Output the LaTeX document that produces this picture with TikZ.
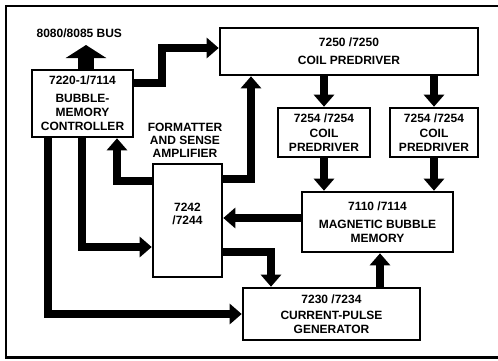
\documentclass[tikz,border=0pt]{standalone}
\usepackage{fontspec}
\setmainfont{Liberation Sans}
\usepackage{tikz}
\usetikzlibrary{
    arrows.meta,
    positioning,
    calc
}
\tikzset{
    unitbox/.style={
        draw,
        line width=2.6pt,
        align=center,
        inner sep=0pt,
        font=\fontsize{12}{14}\selectfont\bfseries
    },
    flowline/.style={
        line width=8pt,
        miter limit=4,
        -{Triangle[width=20pt,length=12pt]}
    },
    busline/.style={
        line width=16pt,
        -{Triangle[width=40pt,length=13pt]}
    },
    plaintext/.style={
        align=center,
        inner sep=0pt,
        font=\fontsize{12}{13}\selectfont\bfseries
    }
}
\begin{document}
\begin{tikzpicture}[x=1pt,y=-1pt]
%
    \useasboundingbox (0,0) rectangle (498,360);
%
    \draw[
        line width=2.8pt
    ]
    (505,6) -- (6,6) -- (6,357.5) -- (505,357.5);
%
    \node[
        unitbox,
        minimum width=101pt,
        minimum height=67pt
    ] (ctrl) at (82.5,103.5) {
        7220-1/7114\\[4pt]
        BUBBLE-\\
        MEMORY\\
        CONTROLLER
    };
%
    \node[
        unitbox,
        minimum width=258pt,
        minimum height=47pt
    ] (pre) at (349,51.5) {
        7250 /7250\\[4pt]
        COIL PREDRIVER
    };
%
    \node[
        unitbox,
        minimum width=92pt,
        minimum height=49pt
    ] (coila) at (324,132.5) {
        7254 /7254\\[1pt]
        COIL\\
        PREDRIVER
    };
%
    \node[
        unitbox,
        minimum width=88pt,
        minimum height=49pt
    ] (coilb) at (434,132.5) {
        7254 /7254\\[1pt]
        COIL\\
        PREDRIVER
    };
%
    \node[
        unitbox,
        minimum width=151pt,
        minimum height=60pt
    ] (mbm) at (377.5,222) {
        7110 /7114\\[4pt]
        MAGNETIC BUBBLE\\
        MEMORY
    };
%
    \node[
        unitbox,
        minimum width=69pt,
        minimum height=113pt
    ] (fsa) at (187.5,220.5) {};
    \node[
        plaintext
    ] (fsanum) at (187.5,213.5) {
        7242\\
        /7244
    };
%
    \node[
        unitbox,
        minimum width=177pt,
        minimum height=52pt
    ] (cpg) at (331.5,314) {
        7230 /7234\\[2pt]
        CURRENT-PULSE\\
        GENERATOR
    };
%
    \node[
        plaintext
    ] (fsaname) at (185,140) {
        FORMATTER\\
        AND SENSE\\
        AMPLIFIER
    };
%
    \node[
        plaintext
    ] (busname) at (81,33) {
        8080/8085 BUS
    };
    \coordinate (bustip) at (86,45);
%
    \draw[busline] (ctrl.north -| bustip) -- (bustip);
%
    \draw[flowline]
    (ctrl.east |- 0,83) -- (162,83) -- (162,48) -- (pre.west |- 0,48);
%
    \draw[flowline]
    (fsa.east |- 0,179) -| (pre.south -| 251,0);
%
    \foreach \col in {coila,coilb}{
        \draw[flowline] (pre.south -| \col) -- (\col.north);
        \draw[flowline] (\col.south) -- (mbm.north -| \col);
    }
%
    \draw[flowline]
    (mbm.west |- 0,218) -- (fsa.east |- 0,218);
%
    \draw[flowline]
    (fsa.east |- 0,252) -| (cpg.north -| 271,0);
%
    \draw[flowline]
    (cpg.north -| 380,0) -- (mbm.south -| 380,0);
%
    \draw[flowline]
    (ctrl.south -| 48,0) |- (cpg.west);
%
    \draw[flowline]
    (ctrl.south -| 82,0) |- (fsa.west |- 0,247);
%
    \draw[flowline]
    (fsa.west |- 0,181) -| (ctrl.south -| 117,0);
%
\end{tikzpicture}
\end{document}
